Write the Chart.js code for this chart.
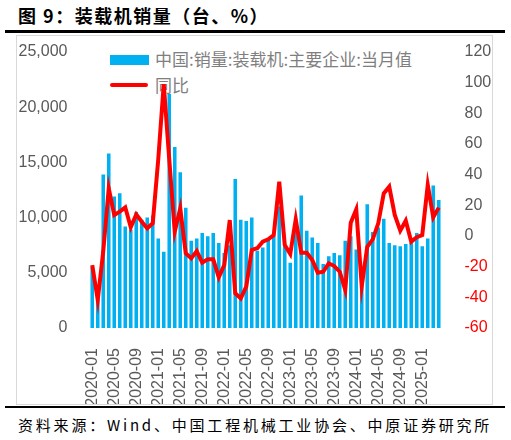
<!DOCTYPE html>
<html>
<head>
<meta charset="utf-8">
<script src="https://cdn.jsdelivr.net/npm/chart.js@4.4.1/dist/chart.umd.min.js"></script>
<style>
  html, body { margin: 0; padding: 0; background: #fff; }
  body { width: 511px; height: 440px; position: relative; overflow: hidden;
         font-family: "Noto Sans CJK SC", "Liberation Sans", sans-serif; }
  #title { position: absolute; left: 18px; top: 3px; font-size: 18px; font-weight: bold;
           color: #000; letter-spacing: 1.5px; line-height: 24px; }
  .rule { position: absolute; left: 5px; width: 500px; height: 3px; background: #000; }
  #box { position: absolute; left: 16px; top: 35px; width: 477px; height: 370px;
         border: 1px solid #d9d9d9; box-sizing: border-box; }
  #legend { position: absolute; left: 0; top: 0; z-index: 0; }
  .lg { position: absolute; font-size: 17px; color: #7f7f7f; line-height: 20px; white-space: nowrap; }
  #chartWrap { position: absolute; left: 0; top: 0; width: 475px; height: 368px; z-index: 1; }
  #source { position: absolute; left: 18px; top: 415px; font-size: 15px; color: #000;
            letter-spacing: 2.8px; line-height: 20px; white-space: nowrap; }
</style>
</head>
<body>
<div id="title">图 9：装载机销量（台、%）</div>
<div class="rule" style="top:30px"></div>
<div id="box">
  <div id="legend">
    <div style="position:absolute;left:93px;top:19px;width:39px;height:10px;background:#00b0f0"></div>
    <div class="lg" style="left:138px;top:13px">中国:销量:装载机:主要企业:当月值</div>
    <div style="position:absolute;left:93px;top:47px;width:38px;height:4px;border-radius:2px;background:#ff0000"></div>
    <div class="lg" style="left:138px;top:39px">同比</div>
  </div>
  <div id="chartWrap"><canvas id="chart"></canvas></div>
</div>
<div class="rule" style="top:406px;height:2px"></div>
<div id="source">资料来源：Wind、中国工程机械工业协会、中原证券研究所</div>

<script>
'use strict';

var months = [
    '2020-01','2020-02','2020-03','2020-04','2020-05','2020-06','2020-07','2020-08','2020-09','2020-10','2020-11','2020-12',
    '2021-01','2021-02','2021-03','2021-04','2021-05','2021-06','2021-07','2021-08','2021-09','2021-10','2021-11','2021-12',
    '2022-01','2022-02','2022-03','2022-04','2022-05','2022-06','2022-07','2022-08','2022-09','2022-10','2022-11','2022-12',
    '2023-01','2023-02','2023-03','2023-04','2023-05','2023-06','2023-07','2023-08','2023-09','2023-10','2023-11','2023-12',
    '2024-01','2024-02','2024-03','2024-04','2024-05','2024-06','2024-07','2024-08','2024-09','2024-10','2024-11','2024-12',
    '2025-01','2025-02','2025-03','2025-04'
];

// 当月值（台）
var sales = [
    5500, 2700, 13900, 15800, 11900, 12200, 9200, 8900, 10500, 9800, 10000, 10200,
    8100, 6900, 21200, 16400, 14100, 10900, 7900, 8100, 8600, 8300, 8600, 7700,
    6800, 7500, 13500, 9800, 9700, 10000, 7000, 7300, 8000, 8300, 11000, 7400,
    5900, 9500, 12000, 8800, 8200, 7700, 5800, 6500, 6800, 6600, 7900, 8300,
    7100, 5500, 11200, 8700, 9100, 9900, 7700, 7500, 7400, 7600, 7700, 8600,
    7400, 8100, 12900, 11600
];

// 同比（%）
var yoy = [
    -19, -41.7, -10, 31, 13.7, 15.9, 18.7, 5.7, 14.1, 9.3, 5, 8.3,
    50, 99, 50, 2.8, 18, -11.3, -14.6, -9.8, -17.4, -15.2, -15.2, -27,
    -19, 10.4, -37.4, -40.7, -33, -9.1, -8, -3.7, -2.2, 0.6, 35.4, -5.9,
    -11.7, 10.9, -10.9, -10.9, -15.7, -23.9, -23.3, -17.8, -19.6, -23.3, -35.2, 8.7,
    17.4, -32.6, -7, -2.2, 8.3, 27.8, 32.2, 13.7, 3.5, 10, -3.7, -0.8,
    0.6, 33.3, 12.2, 18.5
];

var leftTicks = [0, 5000, 10000, 15000, 20000, 25000];
var rightTicks = [-60, -40, -20, 0, 20, 40, 60, 80, 100, 120];

var axisFont = { family: 'Liberation Sans', size: 16 };

function noPad(s) {
    s.paddingTop = 0;
    s.paddingBottom = 0;
    s.paddingLeft = 0;
    s.paddingRight = 0;
}

var ctx = document.getElementById('chart').getContext('2d');
var myChart = new Chart(ctx, {
    type: 'bar',
    data: {
        labels: months,
        datasets: [{
            type: 'line',
            label: '同比',
            data: yoy,
            yAxisID: 'y1',
            borderColor: '#ff0000',
            backgroundColor: '#ff0000',
            borderWidth: 4,
            pointRadius: 0,
            tension: 0,
            order: 0
        }, {
            label: '中国:销量:装载机:主要企业:当月值',
            data: sales,
            yAxisID: 'y',
            backgroundColor: '#00b0f0',
            barPercentage: 0.65,
            categoryPercentage: 1,
            order: 1
        }]
    },
    options: {
        responsive: true,
        maintainAspectRatio: false,
        animation: false,
        layout: { padding: { top: 16, left: 0, right: 0, bottom: 0 } },
        plugins: {
            legend: { display: false },
            tooltip: { enabled: false }
        },
        scales: {
            x: {
                grid: { display: false },
                border: { display: false },
                ticks: {
                    autoSkip: false,
                    minRotation: 90,
                    maxRotation: 90,
                    padding: 12,
                    color: '#595959',
                    font: axisFont,
                    callback: function (v, i) { return i % 4 === 0 ? months[i] : ''; }
                },
                afterFit: function (s) { noPad(s); s.height = 76; }
            },
            y: {
                position: 'left',
                min: leftTicks[0],
                max: leftTicks[leftTicks.length - 1],
                grid: { display: false },
                border: { display: false },
                afterBuildTicks: function (s) { s.ticks = leftTicks.map(function (v) { return { value: v }; }); },
                ticks: {
                    padding: 14,
                    color: '#595959',
                    font: axisFont,
                    callback: function (v) { return v.toLocaleString('en-US'); }
                },
                afterFit: function (s) { noPad(s); s.width = 72.5; }
            },
            y1: {
                position: 'right',
                min: rightTicks[0],
                max: rightTicks[rightTicks.length - 1],
                grid: { display: false },
                border: { display: false },
                afterBuildTicks: function (s) { s.ticks = rightTicks.map(function (v) { return { value: v }; }); },
                ticks: {
                    padding: 15,
                    font: axisFont,
                    color: function (c) { return c.tick && c.tick.value < 0 ? '#ff0000' : '#595959'; }
                },
                afterFit: function (s) { noPad(s); s.width = 50.5; }
            }
        }
    }
});
</script>
</body>
</html>
